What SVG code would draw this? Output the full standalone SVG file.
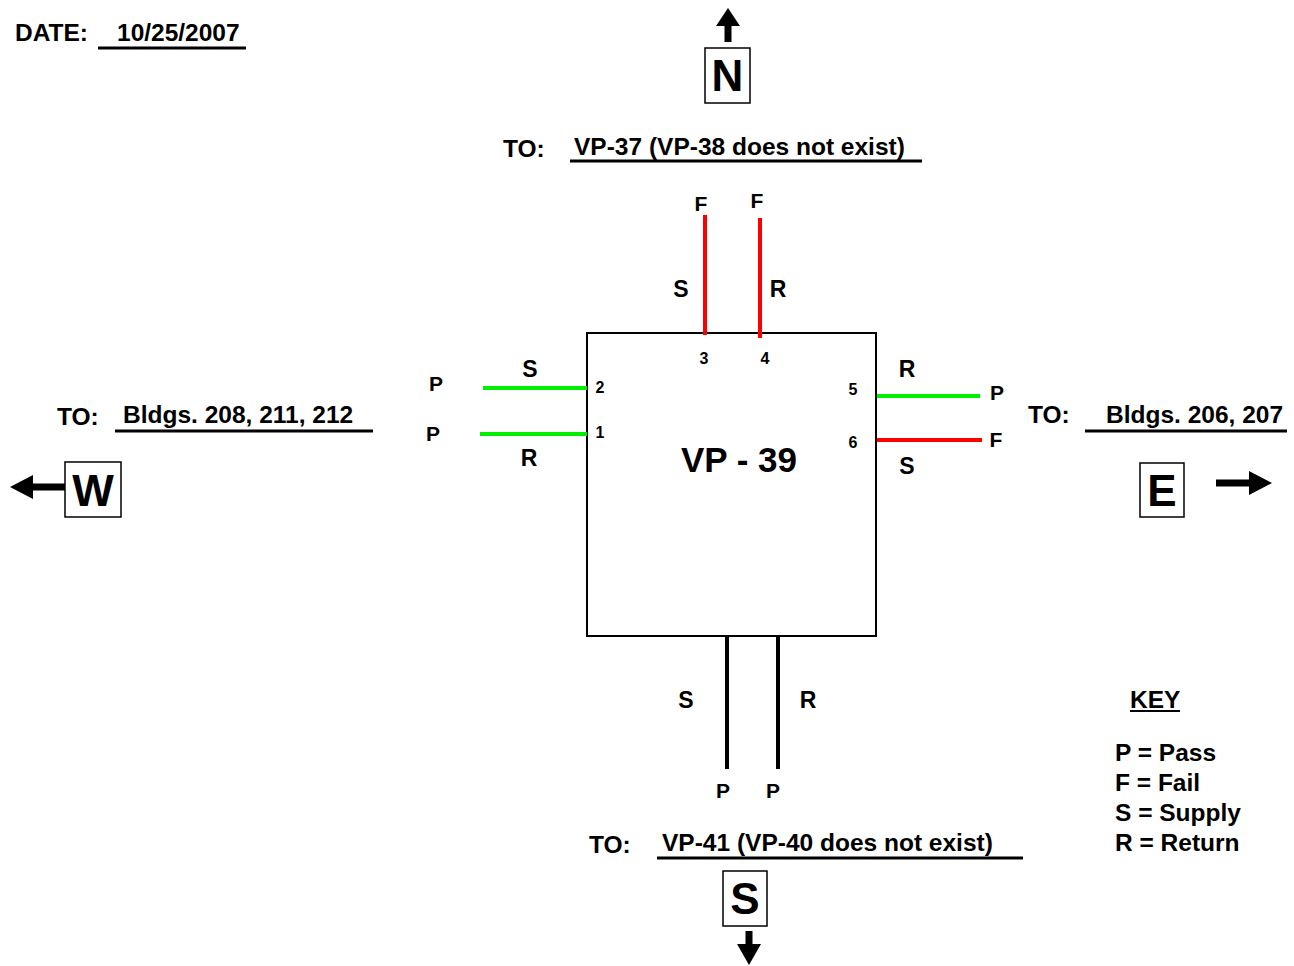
<svg xmlns="http://www.w3.org/2000/svg" width="1294" height="966" viewBox="0 0 1294 966">
<style>
text{font-family:"Liberation Sans",Arial,sans-serif;font-weight:bold;fill:#000}
.t{font-size:24.5px}
.l{font-size:23px}
.s{font-size:21px}
.n{font-size:16px}
.d{font-size:44px}
.ul{stroke:#000;stroke-width:3}
.box{fill:#fff;stroke:#000;stroke-width:1.5}
.g{stroke:#00ee00;stroke-width:4}
.r{stroke:#ff0000;stroke-width:4}
.k{stroke:#000;stroke-width:4}
</style>
<rect width="1294" height="966" fill="#fff"/>
<g id="date">
<text class="t" x="15" y="41">DATE:</text>
<text class="t" x="117" y="41">10/25/2007</text>
<line class="ul" x1="98" y1="48" x2="246" y2="48"/>
</g>
<g id="north">
<polygon points="728,8 740,26 731.5,26 731.5,42 724.5,42 724.5,26 716,26"/>
<rect class="box" x="705" y="48" width="45" height="55"/>
<text class="d" x="727.5" y="91" text-anchor="middle">N</text>
<text class="t" x="503" y="157">TO:</text>
<text class="t" x="574" y="155">VP-37 (VP-38 does not exist)</text>
<line class="ul" x1="570" y1="161" x2="922" y2="161"/>
</g>
<g id="west">
<polygon points="10,487 33,475 33,483.5 65,483.5 65,490.5 33,490.5 33,499"/>
<rect class="box" x="65" y="462" width="56" height="55"/>
<text class="d" x="93" y="506" text-anchor="middle">W</text>
<text class="t" x="57" y="425">TO:</text>
<text class="t" x="123" y="423">Bldgs. 208, 211, 212</text>
<line class="ul" x1="115" y1="431" x2="373" y2="431"/>
</g>
<g id="east">
<polygon points="1272,483 1249,471 1249,479.5 1216,479.5 1216,486.5 1249,486.5 1249,495"/>
<rect class="box" x="1140" y="463" width="44" height="54"/>
<text class="d" x="1162" y="506" text-anchor="middle">E</text>
<text class="t" x="1028" y="423">TO:</text>
<text class="t" x="1106" y="423">Bldgs. 206, 207</text>
<line class="ul" x1="1085" y1="431" x2="1287" y2="431"/>
</g>
<g id="south">
<text class="t" x="589" y="853">TO:</text>
<text class="t" x="662" y="851">VP-41 (VP-40 does not exist)</text>
<line class="ul" x1="657" y1="858" x2="1023" y2="858"/>
<rect class="box" x="723" y="871" width="44" height="55"/>
<text class="d" x="745" y="914" text-anchor="middle">S</text>
<polygon points="749,965 761,944 752.5,944 752.5,931 745.5,931 745.5,944 737,944"/>
</g>
<g id="vp39">
<rect x="587" y="333" width="289" height="303" fill="#fff" stroke="#000" stroke-width="2"/>
<text x="739" y="472" font-size="35" text-anchor="middle">VP - 39</text>
<text class="n" x="704" y="364" text-anchor="middle">3</text>
<text class="n" x="765" y="364" text-anchor="middle">4</text>
<text class="n" x="600" y="393" text-anchor="middle">2</text>
<text class="n" x="600" y="438" text-anchor="middle">1</text>
<text class="n" x="853" y="395" text-anchor="middle">5</text>
<text class="n" x="853" y="448" text-anchor="middle">6</text>
</g>
<g id="connectors">
<line class="r" x1="705" y1="215" x2="705" y2="335"/>
<line class="r" x1="760" y1="218" x2="760" y2="338"/>
<line class="g" x1="483" y1="388" x2="587" y2="388"/>
<line class="g" x1="480" y1="434" x2="587" y2="434"/>
<line class="g" x1="877" y1="396" x2="980" y2="396"/>
<line class="r" x1="877" y1="440" x2="982" y2="440"/>
<line class="k" x1="727" y1="636" x2="727" y2="769"/>
<line class="k" x1="778" y1="636" x2="778" y2="769"/>
</g>
<g id="labels">
<text class="s" x="701" y="211" text-anchor="middle">F</text>
<text class="s" x="757" y="208" text-anchor="middle">F</text>
<text class="l" x="681" y="297" text-anchor="middle">S</text>
<text class="l" x="778" y="297" text-anchor="middle">R</text>
<text class="l" x="530" y="377" text-anchor="middle">S</text>
<text class="s" x="436" y="391" text-anchor="middle">P</text>
<text class="s" x="433" y="441" text-anchor="middle">P</text>
<text class="l" x="529" y="466" text-anchor="middle">R</text>
<text class="l" x="907" y="377" text-anchor="middle">R</text>
<text class="s" x="997" y="400" text-anchor="middle">P</text>
<text class="s" x="996" y="447" text-anchor="middle">F</text>
<text class="l" x="907" y="474" text-anchor="middle">S</text>
<text class="l" x="686" y="708" text-anchor="middle">S</text>
<text class="l" x="808" y="708" text-anchor="middle">R</text>
<text class="s" x="723" y="798" text-anchor="middle">P</text>
<text class="s" x="773" y="798" text-anchor="middle">P</text>
</g>
<g id="key">
<text class="t" x="1130" y="708">KEY</text>
<line x1="1130" y1="711" x2="1180" y2="711" stroke="#000" stroke-width="2"/>
<text class="t" x="1115" y="761">P = Pass</text>
<text class="t" x="1115" y="791">F = Fail</text>
<text class="t" x="1115" y="821">S = Supply</text>
<text class="t" x="1115" y="851">R = Return</text>
</g>
</svg>
